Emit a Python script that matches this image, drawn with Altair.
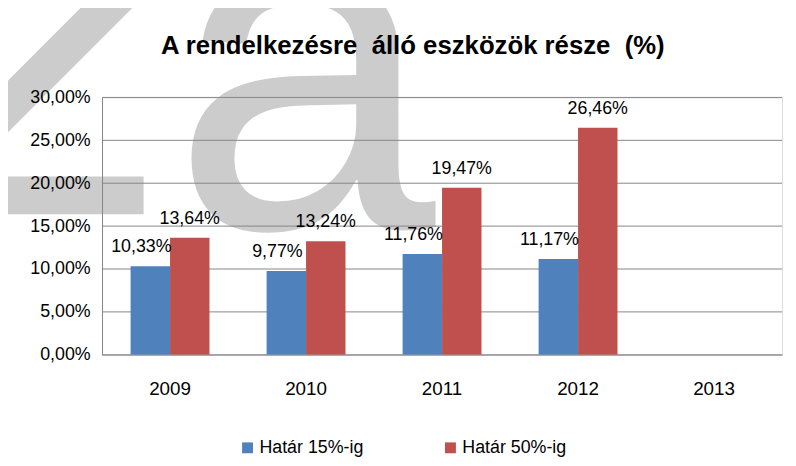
import altair as alt
import pandas as pd

years = ["2009", "2010", "2011", "2012", "2013"]
series = ["Határ 15%-ig", "Határ 50%-ig"]
vals15 = [10.33, 9.77, 11.76, 11.17]
vals50 = [13.64, 13.24, 19.47, 26.46]
ticks = [0, 5, 10, 15, 20, 25, 30]
title_text = "A rendelkezésre \u00a0álló eszközök része \u00a0(%)"

rows = []
for y, v in zip(years, vals15):
    rows.append({"year": y, "series": series[0], "value": v})
for y, v in zip(years, vals50):
    rows.append({"year": y, "series": series[1], "value": v})
df = pd.DataFrame(rows)
df["label"] = df["value"].map(lambda v: f"{v:.2f}".replace(".", ",") + "%")
grid_df = pd.DataFrame({"t": ticks})
one = pd.DataFrame({"w": [0]})
title_df = pd.DataFrame({"title": [title_text]})

W, H = 687, 260
FONT = "Liberation Sans"
WM = "#cccccc"

xscale = alt.Scale(domain=years, paddingInner=0.42, paddingOuter=0.21)
yscale = alt.Scale(domain=[0, 30], nice=False)
cscale = alt.Scale(domain=series, range=["#4F81BD", "#C0504D"])
offscale = alt.Scale(domain=series, paddingInner=0, paddingOuter=0)

yaxis = alt.Axis(title=None, values=ticks,
                 labelExpr="replace(format(datum.value, '.2f'), '.', ',') + '%'",
                 ticks=False, grid=False, domainColor="#868686", zindex=1,
                 labelPadding=12, labelFontSize=18, labelFont=FONT, labelColor="black")
xaxis = alt.Axis(title=None, labelAngle=0, ticks=False, domainColor="#a0a0a0", zindex=1,
                 labelFontSize=19, labelPadding=25, labelFont=FONT, labelColor="black")

wm_a = alt.Chart(one).mark_text(text="a", font=FONT, fontSize=480, color=WM,
                                align="left", baseline="alphabetic").encode(
    x=alt.value(70), y=alt.value(132))
wm_diag = alt.Chart(one).mark_rule(strokeWidth=37, color=WM, strokeCap="butt").encode(
    x=alt.value(27), y=alt.value(-113), x2=alt.value(-120), y2=alt.value(34))
wm_bar = alt.Chart(one).mark_rect(color=WM).encode(
    x=alt.value(-110), x2=alt.value(42), y=alt.value(80), y2=alt.value(118))

title = alt.Chart(title_df).mark_text(
    font=FONT, fontSize=26, fontWeight="bold", color="black",
    align="center", baseline="alphabetic").encode(
    text="title:N", x=alt.value(314), y=alt.value(-44))

grid = alt.Chart(grid_df).mark_rule(color="#868686", strokeWidth=1).encode(
    y=alt.Y("t:Q", scale=yscale, axis=yaxis))

base = alt.Chart(df).encode(
    x=alt.X("year:N", scale=xscale, axis=xaxis, sort=years),
    xOffset=alt.XOffset("series:N", scale=offscale, sort=series),
    y=alt.Y("value:Q", scale=yscale, axis=yaxis),
)

bars = base.mark_bar().encode(
    color=alt.Color("series:N", scale=cscale, sort=series,
                    legend=alt.Legend(title=None, orient="none", legendX=138, legendY=345,
                                      direction="horizontal", symbolType="square",
                                      symbolSize=121, labelFontSize=18, labelFont=FONT,
                                      labelColor="black", columnPadding=78, labelOffset=3,
                                      symbolStrokeWidth=0))
)

lab15 = base.transform_filter(alt.datum.series == series[0]).mark_text(
    dx=-9, dy=-14, baseline="alphabetic", fontSize=18, font=FONT, color="black"
).encode(text="label:N")
lab50 = base.transform_filter(alt.datum.series == series[1]).mark_text(
    dx=0, dy=-14, baseline="alphabetic", fontSize=18, font=FONT, color="black"
).encode(text="label:N")

chart = alt.layer(wm_diag, wm_bar, wm_a, grid, bars, lab15, lab50, title).properties(
    width=W, height=H,
    autosize=alt.AutoSizeParams(type="none"),
    padding={"left": 95, "top": 88, "right": 6, "bottom": 110},
).configure_view(stroke=None).configure(background="white", font=FONT)

chart.save("out.html", embed_options={"renderer": "svg", "actions": False})
